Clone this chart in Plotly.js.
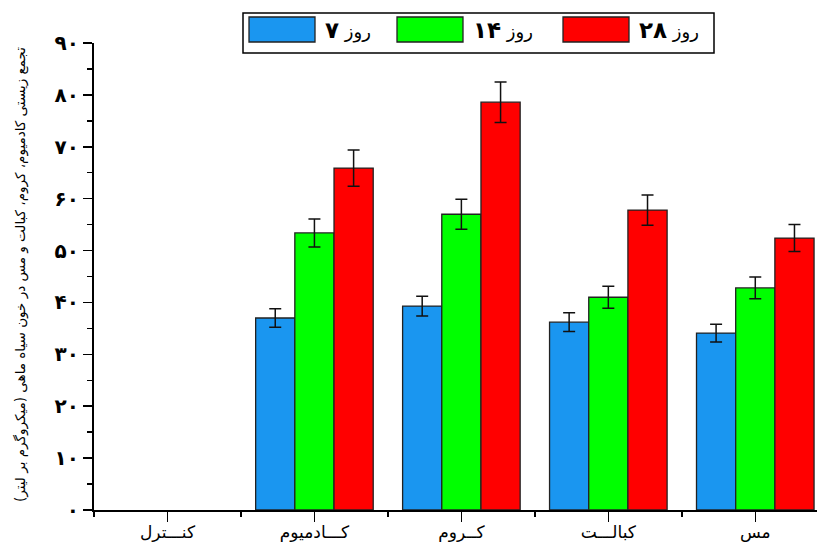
<!DOCTYPE html>
<html>
<head>
<meta charset="utf-8">
<script src="https://cdn.plot.ly/plotly-3.0.1.min.js"></script>
<style>html,body{margin:0;padding:0;background:#fff;}#chart{width:817px;height:543px;}</style>
</head>
<body>
<div id="chart"></div>
<script>
// ---- data ----
const categories = ['کنـــترل', 'کـــادمیوم', 'کــروم', 'کبالـــت', 'مس'];
const days = ['۷', '۱۴', '۲۸'];
const seriesNames = days.map(d => 'روز ' + d);
const day7  = [0, 37.0, 39.3, 36.2, 34.1];
const day14 = [0, 53.4, 57.0, 41.0, 42.8];
const day28 = [0, 65.9, 78.6, 57.8, 52.4];
const err7  = [0, 1.8, 1.9, 1.8, 1.7];
const err14 = [0, 2.7, 2.9, 2.1, 2.1];
const err28 = [0, 3.5, 3.9, 2.9, 2.6];
const yTickVals = [0, 10, 20, 30, 40, 50, 60, 70, 80, 90];
const yTickText = ['۰', '۱۰', '۲۰', '۳۰', '۴۰', '۵۰', '۶۰', '۷۰', '۸۰', '۹۰'];
const yTitle = 'تجمع زیستی کادمیوم، کروم، کبالت و مس در خون سیاه ماهی (میکروگرم بر لیتر)';
const colors = ['#1A96F0', '#00FF00', '#FF0000'];

const values = [day7, day14, day28];
const errors = [err7, err14, err28];
const xIdx = categories.map((c, i) => i);

// a zero value draws no bar (and no error bar), as in the reference
const traces = values.map((v, k) => ({
  type: 'bar',
  name: seriesNames[k],
  x: xIdx,
  y: v.map(val => val > 0 ? val : null),
  marker: {color: colors[k], line: {color: '#222', width: 1.3}},
  error_y: {type: 'data', array: errors[k], visible: true, color: '#111', thickness: 1.5, width: 6},
  showlegend: false,
  hoverinfo: 'y'
}));

// layout geometry helpers for the drawn legend and title
const W = 817, H = 543, mL = 94, mR = 0, mT = 43, mB = 33;
const pw = W - mL - mR, ph = H - mT - mB;
const px = x => (x - mL) / pw;
const py = y => (H - mB - y) / ph;

const shapes = [{
  type: 'rect', xref: 'paper', yref: 'paper',
  x0: px(243), x1: px(714), y0: py(53), y1: py(13),
  line: {color: '#000', width: 1.5}, fillcolor: '#fff', layer: 'above'
}];
const swX = [249, 397, 563];
const annotations = [];
seriesNames.forEach((n, k) => {
  shapes.push({
    type: 'rect', xref: 'paper', yref: 'paper',
    x0: px(swX[k]), x1: px(swX[k] + 66), y0: py(42), y1: py(17),
    line: {color: '#222', width: 1.3}, fillcolor: colors[k], layer: 'above'
  });
  annotations.push({
    xref: 'paper', yref: 'paper', x: px(swX[k] + 74), y: py(30),
    xanchor: 'left', yanchor: 'middle', showarrow: false,
    text: 'روز ' + '<b><span style="font-size:23px">' + days[k] + '</span></b>',
    font: {family: 'DejaVu Sans', size: 18, color: '#000'}
  });
});
annotations.push({
  xref: 'paper', yref: 'paper', x: px(20), y: py(275),
  xanchor: 'center', yanchor: 'middle', showarrow: false, textangle: -90,
  text: yTitle,
  font: {family: 'DejaVu Sans', size: 13.5, color: '#000'}
});

const layout = {
  width: W, height: H,
  margin: {l: mL, r: mR, t: mT, b: mB, pad: 0},
  paper_bgcolor: '#fff', plot_bgcolor: '#fff',
  barmode: 'group', bargap: 0.2, bargroupgap: 0,
  xaxis: {
    range: [-0.5, 4.42], tickmode: 'array', tickvals: xIdx, ticktext: categories,
    ticks: 'outside', ticklen: 10, tickwidth: 1.5, tickcolor: '#000',
    showline: true, linewidth: 2, linecolor: '#000', showgrid: false, zeroline: false,
    tickfont: {family: 'DejaVu Sans', size: 17, color: '#000'},
    ticklabelstandoff: -4,
    minor: {tick0: 0.5, dtick: 1, ticks: 'outside', ticklen: 5, tickwidth: 1.5, tickcolor: '#000', showgrid: false}
  },
  yaxis: {
    range: [0, 90], tickmode: 'array', tickvals: yTickVals, ticktext: yTickText,
    ticks: 'outside', ticklen: 9, tickwidth: 1.5, tickcolor: '#000',
    showline: true, linewidth: 2, linecolor: '#000', showgrid: false, zeroline: false,
    tickfont: {family: 'DejaVu Sans', size: 20, color: '#000', weight: 'bold'},
    minor: {tick0: 5, dtick: 10, ticks: 'outside', ticklen: 5, tickwidth: 1.5, tickcolor: '#000', showgrid: false}
  },
  shapes: shapes,
  annotations: annotations,
  showlegend: false
};

Plotly.newPlot('chart', traces, layout, {displayModeBar: false, staticPlot: true});
</script>
</body>
</html>
